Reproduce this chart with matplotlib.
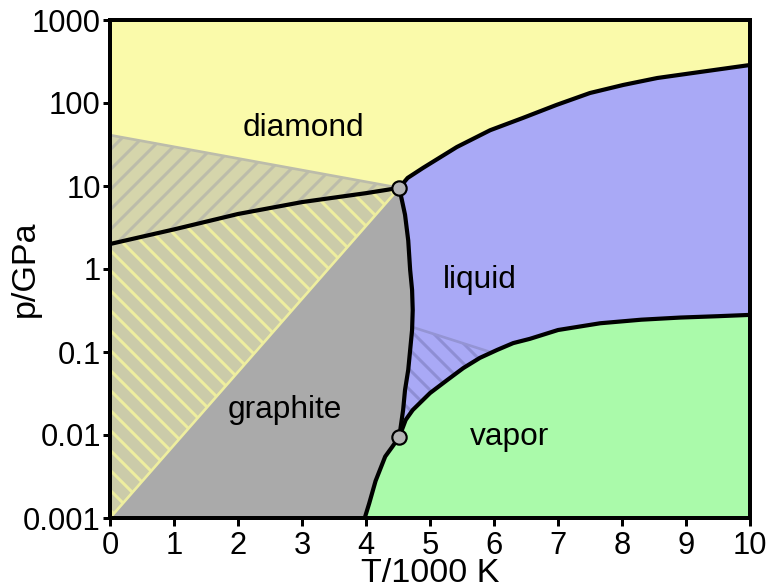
import numpy as np
from matplotlib import pyplot as plt

plt.rcParams['font.family'] = ['Liberation Sans', 'DejaVu Sans']
plt.rcParams['hatch.linewidth'] = 1.8

# triple points (T/1000 K, p/GPa)
tp_T = [4.52, 4.52]
tp_p = [9.5, 0.0095]

# graphite / diamond boundary
gd_T = [0, 1, 2, 3, 4, 4.52]
gd_p = [2.0, 3.0, 4.6, 6.4, 8.2, 9.5]

# graphite / liquid boundary (top to bottom)
gl_T = [4.52, 4.61, 4.66, 4.69, 4.72, 4.73, 4.72, 4.69, 4.66, 4.61, 4.58, 4.52]
gl_p = [9.5, 4.5, 2.2, 0.97, 0.56, 0.32, 0.184, 0.106, 0.061, 0.035, 0.02, 0.0095]

# graphite / vapor boundary
gv_T = [4.52, 4.41, 4.3, 4.15, 4.05, 3.98]
gv_p = [0.0095, 0.0072, 0.0055, 0.0028, 0.0015, 0.001]

# liquid / vapor boundary
lv_T = [4.52, 4.62, 4.73, 5.0, 5.27, 5.52, 5.78, 6.05, 6.3, 6.56, 7.0, 7.66, 8.3, 8.91, 9.5, 10]
lv_p = [0.0095, 0.0152, 0.020, 0.032, 0.046, 0.064, 0.085, 0.106, 0.128, 0.144, 0.184, 0.222, 0.245, 0.26, 0.27, 0.28]

# diamond / liquid boundary
dl_T = [4.52, 4.65, 4.89, 5.42, 5.94, 6.45, 6.98, 7.5, 8.02, 8.55, 9.33, 10]
dl_p = [9.5, 12.5, 16.5, 29.5, 47, 66, 95, 132, 165, 200, 243, 287]

# metastable extensions
meta_dia_T = [0, 4.52]
meta_dia_p = [41, 9.5]
meta_gr_T = [0, 4.52]
meta_gr_p = [0.001, 9.5]
meta_liq_T = [4.72, 5.94]
meta_liq_p = [0.2, 0.1]

labels = ['diamond', 'liquid', 'graphite', 'vapor']
label_T = [3.02, 5.78, 2.73, 6.25]
label_p = [50, 0.74, 0.02, 0.0095]

xmin, xmax = 0, 10
ymin, ymax = 0.001, 1000

c_dia = '#fafaaa'
c_liq = '#a9a9f6'
c_vap = '#aafaaa'
c_gr = '#aaaaaa'

fig = plt.figure(figsize=(769 / 120, 588 / 120), dpi=120)
ax = fig.add_axes([110 / 769, 1 - 518 / 588, 640 / 769, 498 / 588])
ax.set_facecolor(c_dia)

# liquid region
liq_T = dl_T + [xmax] + lv_T[::-1] + gl_T[::-1]
liq_p = dl_p + [lv_p[-1]] + lv_p[::-1] + gl_p[::-1]
ax.fill(liq_T, liq_p, color=c_liq, lw=0)

# vapor region
vap_T = gv_T[::-1] + lv_T + [xmax]
vap_p = gv_p[::-1] + lv_p + [ymin]
ax.fill(vap_T, vap_p, color=c_vap, lw=0)

# graphite region
gr_T = gd_T + gl_T + gv_T + [xmin]
gr_p = gd_p + gl_p + gv_p + [ymin]
ax.fill(gr_T, gr_p, color=c_gr, lw=0)

# metastable graphite in diamond field
h1_T = [meta_dia_T[0]] + gd_T[::-1]
h1_p = [meta_dia_p[0]] + gd_p[::-1]
ax.fill(h1_T, h1_p, facecolor='#d5d5ab', edgecolor='#bcbcaa', hatch='//', lw=0)
ax.plot(meta_dia_T, meta_dia_p, color='#bcbcaa', lw=1.6)

# metastable diamond in graphite field
h2_T = gd_T + [meta_gr_T[0]]
h2_p = gd_p + [meta_gr_p[0]]
ax.fill(h2_T, h2_p, facecolor='#cbcba9', edgecolor='#eeee9f', hatch='\\\\', lw=0)
ax.plot(meta_gr_T, meta_gr_p, color='#eeee9f', lw=1.6)

# metastable liquid region
low_gl = [i for i in range(len(gl_p)) if gl_p[i] < meta_liq_p[0]]
low_lv = [i for i in range(len(lv_T)) if lv_T[i] <= meta_liq_T[1]]
h3_T = [meta_liq_T[0]] + [gl_T[i] for i in low_gl] + [lv_T[i] for i in low_lv] + [meta_liq_T[1]]
h3_p = [meta_liq_p[0]] + [gl_p[i] for i in low_gl] + [lv_p[i] for i in low_lv] + [meta_liq_p[1]]
ax.fill(h3_T, h3_p, facecolor=c_liq, edgecolor='#8e8ed4', hatch='\\\\', lw=0)
ax.plot(meta_liq_T, meta_liq_p, color='#9494d4', lw=1.6)

# phase boundaries
for T, p in [(gd_T, gd_p), (gl_T, gl_p), (gv_T, gv_p), (lv_T, lv_p), (dl_T, dl_p)]:
    ax.plot(T, p, color='black', lw=2.5, solid_capstyle='round', solid_joinstyle='round')

ax.plot(tp_T, tp_p, 'o', ms=8.6, mfc='#b4b4b4', mec='black', mew=1.3, ls='none', zorder=5)

for s, T, p in zip(labels, label_T, label_p):
    ax.text(T, p, s, fontsize=19, ha='center', va='center')

ax.set_yscale('log')
ax.set_xlim(xmin, xmax)
ax.set_ylim(ymin, ymax)
ax.set_xticks(range(0, 11))
ax.set_yticks([1e-3, 1e-2, 1e-1, 1, 10, 100, 1000])
ax.set_yticklabels(['0.001', '0.01', '0.1', '1', '10', '100', '1000'])
ax.minorticks_off()
ax.tick_params(direction='out', length=4.5, width=1.8, labelsize=18.5)
ax.tick_params(axis='x', pad=3)
ax.tick_params(axis='y', pad=1)
for sp in ax.spines.values():
    sp.set_linewidth(2.4)

ax.set_xlabel('T/1000 K', fontsize=20.5)
ax.set_ylabel('p/GPa', fontsize=20.5)
ax.xaxis.set_label_coords(0.5, -0.08)
ax.yaxis.set_label_coords(-0.108, 0.5)

fig.savefig('out.png', dpi=120)
